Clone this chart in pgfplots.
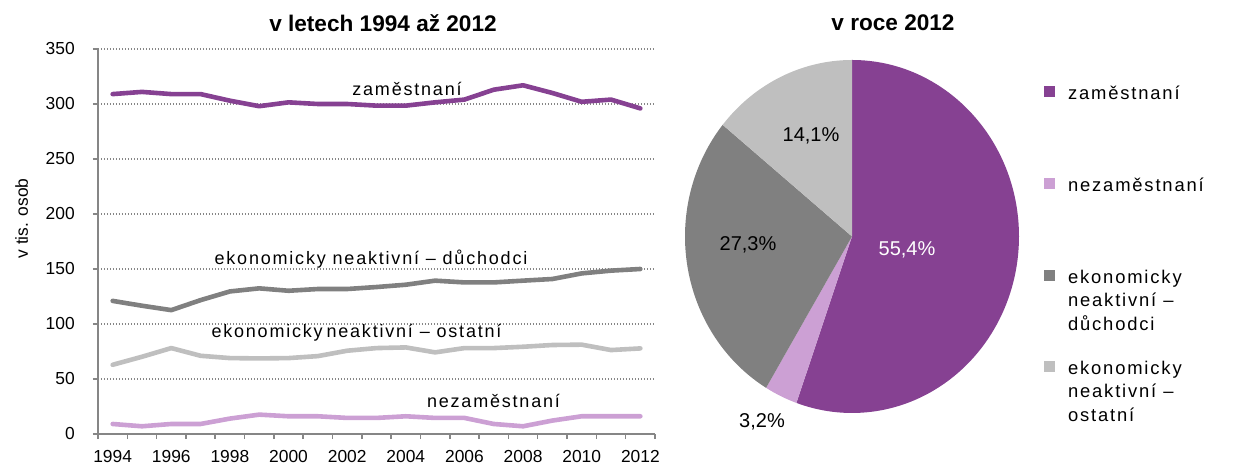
\documentclass[border=0pt]{standalone}
\usepackage{pgfplots}
\pgfplotsset{compat=1.18}
\usepackage{pgfplotstable}
\usepackage{fontspec}
\setmainfont{Liberation Sans}
\newfontfamily\spacedfont[LetterSpace=10]{Liberation Sans}
\definecolor{cPurple}{RGB}{134,65,146}
\definecolor{cLilac}{RGB}{204,160,212}
\definecolor{cDark}{RGB}{128,128,128}
\definecolor{cLight}{RGB}{191,191,191}
\definecolor{cAxis}{RGB}{134,134,134}

\pgfplotstableread{
year zam nez duch ost
1994 309 9.1 121 62.9
1995 311 7 116.6 70.2
1996 309 9.1 112.6 78.1
1997 309 9.1 121.7 71.1
1998 303 14 129.6 69
1999 298 17.6 132.4 68.7
2000 301.5 16.1 130.2 69
2001 300 16.1 131.8 70.8
2002 300 14.6 131.8 75.7
2003 298.5 14.6 133.6 78.1
2004 298.5 16.1 135.7 78.7
2005 301.5 14.6 139.4 74.2
2006 304 14.6 137.8 78.1
2007 313 9.1 137.8 78.1
2008 317 7 139.4 79.3
2009 310 12.2 140.9 80.9
2010 302 16.1 146 81.2
2011 304 16.1 148.5 76.3
2012 296 16.1 150 77.8
}\linedata

% pie shares 2012 (%)
\def\pZam{55.4}
\def\pNez{3.2}
\def\pDuch{27.3}
\def\pOst{14.1}

\begin{document}
\begin{tikzpicture}
\useasboundingbox (0,0) rectangle (616.5pt,234.5pt);

\begin{axis}[
  at={(49pt,17.5pt)}, anchor=south west,
  scale only axis, width=278.5pt, height=192.5pt,
  xmin=1993.5, xmax=2012.5, ymin=0, ymax=350,
  axis lines=left,
  axis line style={-, draw=cAxis, line width=0.75pt},
  tick align=outside,
  major tick length=2.6pt,
  tick style={draw=cAxis, line width=0.75pt},
  xtick={1993.5,1994.5,...,2012.5},
  xticklabels={},
  extra x ticks={1994,1996,...,2012},
  extra x tick labels={1994,1996,1998,2000,2002,2004,2006,2008,2010,2012},
  extra x tick style={tick style={draw=none}},
  ytick={0,50,...,350},
  ymajorgrids,
  grid style={draw=cAxis, line width=0.6pt, dash pattern=on 0.6pt off 0.9pt},
  /pgf/number format/assume math mode=true,
  ticklabel style={font=\fontsize{8.7}{10}\selectfont, text=black},
  yticklabel style={xshift=-5.5pt},
  xticklabel style={yshift=-2pt},
  clip=false,
]
\addplot[cPurple, line width=2.3pt, line join=round, line cap=round] table[x=year, y=zam] {\linedata};
\addplot[cLilac, line width=2.3pt, line join=round, line cap=round] table[x=year, y=nez] {\linedata};
\addplot[cDark, line width=2.3pt, line join=round, line cap=round] table[x=year, y=duch] {\linedata};
\addplot[cLight, line width=2.3pt, line join=round, line cap=round] table[x=year, y=ost] {\linedata};
\end{axis}

% series labels
\begin{scope}[every node/.style={anchor=base, inner sep=0pt, font=\spacedfont\fontsize{9}{11}\selectfont}]
\node at (203.5pt,186.5pt) {zaměstnaní};
\node at (185.5pt,102pt) {ekonomicky neaktivní – důchodci};
\node at (178.25pt,65.5pt) {ekonomicky\hspace{-1.5pt} neaktivní – ostatní};
\node at (246.75pt,30.6pt) {nezaměstnaní};
\end{scope}

% titles and y label
\node[font=\bfseries\fontsize{11.3}{13}\selectfont] at (191.5pt,223pt) {v letech 1994 až 2012};
\node[font=\bfseries\fontsize{11.3}{13}\selectfont] at (446.5pt,223pt) {v roce 2012};
\node[font=\fontsize{8.7}{10}\selectfont, rotate=90] at (10.8pt,125.25pt) {v tis. osob};

% pie
\begin{axis}[
  at={(426pt,116.25pt)}, anchor=center,
  scale only axis, width=167pt, height=176.5pt,
  xmin=-1, xmax=1, ymin=-1, ymax=1,
  hide axis, clip=false,
]
\pgfmathsetmacro{\aA}{90}
\pgfmathsetmacro{\aB}{\aA-3.6*\pZam}
\pgfmathsetmacro{\aC}{\aB-3.6*\pNez}
\pgfmathsetmacro{\aD}{\aC-3.6*\pDuch}
\pgfmathsetmacro{\aE}{\aD-3.6*\pOst}
\fill[cPurple] (axis cs:0,0) -- (axis cs:{cos(\aA)},{sin(\aA)}) arc[start angle=\aA, end angle=\aB, x radius=83.5pt, y radius=88.25pt] -- cycle;
\fill[cLilac] (axis cs:0,0) -- (axis cs:{cos(\aB)},{sin(\aB)}) arc[start angle=\aB, end angle=\aC, x radius=83.5pt, y radius=88.25pt] -- cycle;
\fill[cDark] (axis cs:0,0) -- (axis cs:{cos(\aC)},{sin(\aC)}) arc[start angle=\aC, end angle=\aD, x radius=83.5pt, y radius=88.25pt] -- cycle;
\fill[cLight] (axis cs:0,0) -- (axis cs:{cos(\aD)},{sin(\aD)}) arc[start angle=\aD, end angle=\aE, x radius=83.5pt, y radius=88.25pt] -- cycle;
\end{axis}

% pie labels
\node[font=\fontsize{10}{12}\selectfont, text=white] at (453.5pt,109.5pt) {55,4\%};
\node[font=\fontsize{10}{12}\selectfont] at (374pt,112pt) {27,3\%};
\node[font=\fontsize{10}{12}\selectfont] at (405.5pt,166.5pt) {14,1\%};
\node[font=\fontsize{10}{12}\selectfont] at (381pt,23.5pt) {3,2\%};

% legend
\fill[cPurple] (522.1pt,185.9pt) rectangle ++(5.5pt,5.5pt);
\fill[cLilac] (522.1pt,139.75pt) rectangle ++(5.5pt,5.5pt);
\fill[cDark] (522.1pt,93.75pt) rectangle ++(5.5pt,5.5pt);
\fill[cLight] (522.1pt,48.25pt) rectangle ++(5.5pt,5.5pt);
\begin{scope}[every node/.style={anchor=base west, inner sep=0pt, font=\spacedfont\fontsize{9.2}{11}\selectfont}]
\node at (533.8pt,184.9pt) {zaměstnaní};
\node at (533.8pt,138.75pt) {nezaměstnaní};
\node at (533.8pt,92.75pt) {ekonomicky};
\node at (533.8pt,81.1pt) {neaktivní –};
\node at (533.8pt,69.4pt) {důchodci};
\node at (533.8pt,47.25pt) {ekonomicky};
\node at (533.8pt,35.6pt) {neaktivní –};
\node at (533.8pt,23.9pt) {ostatní};
\end{scope}
\end{tikzpicture}
\end{document}
